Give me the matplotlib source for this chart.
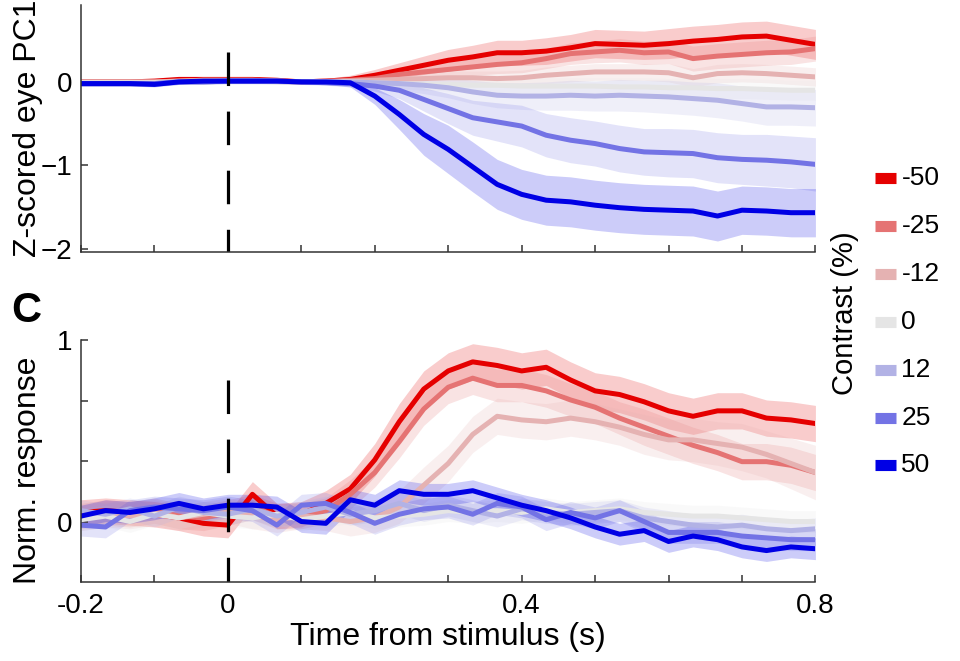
import numpy as np
import matplotlib.pyplot as plt
from matplotlib.lines import Line2D

plt.rcParams['font.family'] = ['Liberation Sans', 'DejaVu Sans']

# time grid (s), 31 samples from -0.2 to 0.8
t = np.linspace(-0.2, 0.8, 31)

contrasts = ['-50', '-25', '-12', '0', '12', '25', '50']
colors = ['#e50000', '#e57373', '#e5b2b2', '#e5e5e5', '#b2b2e5', '#7373e5', '#0000e5']

# --- top panel: z-scored eye PC1 ---
eye_m50 = [0, 0, 0, 0.01, 0.03, 0.03, 0.03, 0.03, 0.02, 0.0, 0.01, 0.03, 0.08, 0.14, 0.2, 0.26,
           0.3, 0.35, 0.35, 0.37, 0.41, 0.46, 0.45, 0.44, 0.46, 0.49, 0.51, 0.54, 0.55, 0.5, 0.45]
eye_m25 = [0, 0, 0, 0, 0.01, 0.02, 0.02, 0.02, 0.01, 0.0, 0.01, 0.02, 0.04, 0.09, 0.12, 0.15,
           0.18, 0.21, 0.23, 0.28, 0.34, 0.36, 0.38, 0.35, 0.36, 0.28, 0.31, 0.33, 0.35, 0.36, 0.4]
eye_m12 = [0, 0, 0, 0, 0.01, 0.02, 0.02, 0.02, 0.01, 0.0, 0.0, 0.01, 0.02, 0.03, 0.04, 0.05,
           0.05, 0.04, 0.05, 0.08, 0.1, 0.12, 0.12, 0.12, 0.11, 0.05, 0.1, 0.11, 0.1, 0.08, 0.06]
eye_0 = [-0.01, -0.01, -0.01, -0.01, 0.0, 0.0, 0.01, 0.01, 0.0, 0.0, 0.0, 0.0, -0.01, -0.02, -0.03,
         -0.03, -0.04, -0.04, -0.05, -0.05, -0.05, -0.05, -0.06, -0.06, -0.07, -0.07, -0.08, -0.08,
         -0.09, -0.1, -0.1]
eye_p12 = [-0.02, -0.02, -0.02, -0.02, 0.0, 0.0, 0.01, 0.01, 0.01, 0.0, 0.0, 0.0, -0.01, -0.02,
           -0.04, -0.07, -0.12, -0.16, -0.17, -0.17, -0.16, -0.17, -0.16, -0.17, -0.18, -0.2,
           -0.22, -0.26, -0.3, -0.3, -0.31]
eye_p25 = [-0.02, -0.02, -0.02, -0.02, 0.0, 0.0, 0.01, 0.01, 0.01, 0.0, -0.01, -0.02, -0.05, -0.1,
           -0.21, -0.32, -0.43, -0.48, -0.53, -0.64, -0.7, -0.74, -0.8, -0.84, -0.85, -0.86,
           -0.91, -0.93, -0.94, -0.96, -0.99]
eye_p50 = [-0.02, -0.02, -0.02, -0.03, 0.0, 0.01, 0.01, 0.01, 0.01, 0.0, 0.0, -0.01, -0.17, -0.39,
           -0.63, -0.81, -1.02, -1.23, -1.35, -1.42, -1.44, -1.48, -1.51, -1.53, -1.54, -1.55,
           -1.61, -1.54, -1.55, -1.57, -1.57]

eye_err_m50 = [0.03] * 11 + [0.05, 0.07, 0.09, 0.11, 0.13, 0.14, 0.15, 0.15, 0.16, 0.16, 0.17,
                             0.17, 0.17, 0.18, 0.18, 0.18, 0.18, 0.18, 0.18, 0.18]
eye_err_m25 = [0.03] * 11 + [0.04, 0.05, 0.07, 0.08, 0.09, 0.1, 0.11, 0.12, 0.12, 0.13, 0.13,
                             0.14, 0.14, 0.14, 0.15, 0.15, 0.15, 0.15, 0.15, 0.15]
eye_err_m12 = [0.03] * 11 + [0.04, 0.05, 0.06, 0.07, 0.08, 0.08, 0.09, 0.09, 0.1, 0.1, 0.1,
                             0.1, 0.1, 0.11, 0.11, 0.11, 0.11, 0.11, 0.11, 0.11]
eye_err_0 = [0.03] * 11 + [0.04, 0.05, 0.06, 0.07, 0.08, 0.08, 0.09, 0.09, 0.1, 0.1, 0.1,
                           0.11, 0.11, 0.11, 0.12, 0.12, 0.12, 0.12, 0.12, 0.12]
eye_err_p12 = [0.03] * 11 + [0.04, 0.06, 0.08, 0.1, 0.12, 0.14, 0.15, 0.16, 0.17, 0.18, 0.18,
                             0.19, 0.19, 0.2, 0.2, 0.21, 0.21, 0.22, 0.22, 0.22]
eye_err_p25 = [0.03] * 11 + [0.04, 0.06, 0.1, 0.14, 0.18, 0.21, 0.23, 0.25, 0.26, 0.27, 0.27,
                             0.28, 0.28, 0.29, 0.29, 0.3, 0.3, 0.31, 0.31, 0.32]
eye_err_p50 = [0.03] * 11 + [0.05, 0.1, 0.18, 0.25, 0.29, 0.3, 0.3, 0.3, 0.3, 0.3, 0.3,
                             0.3, 0.3, 0.3, 0.3, 0.3, 0.29, 0.29, 0.29, 0.29]

# --- bottom panel: normalized neural response ---
resp_m50 = [0.05, 0.06, 0.05, 0.04, 0.02, -0.01, -0.02, 0.15, 0.03, 0.04, 0.1, 0.18, 0.34, 0.55,
            0.73, 0.83, 0.88, 0.86, 0.83, 0.85, 0.78, 0.72, 0.7, 0.66, 0.61, 0.58, 0.61, 0.61,
            0.57, 0.56, 0.54]
resp_m25 = [0.03, 0.05, 0.04, 0.06, 0.03, 0.02, 0.05, 0.08, 0.03, 0.03, 0.06, 0.15, 0.27, 0.44,
            0.62, 0.74, 0.79, 0.75, 0.75, 0.72, 0.67, 0.63, 0.57, 0.52, 0.47, 0.42, 0.38, 0.33,
            0.33, 0.31, 0.27]
resp_m12 = [0.02, 0.04, 0.03, 0.05, 0.02, 0.04, 0.06, 0.03, 0.01, 0.03, 0.02, 0.0, 0.02, 0.08,
            0.2, 0.32, 0.48, 0.58, 0.56, 0.55, 0.57, 0.55, 0.52, 0.48, 0.45, 0.45, 0.43, 0.41,
            0.37, 0.32, 0.27]
resp_0 = [0.01, 0.03, 0.0, 0.04, 0.02, 0.05, 0.03, 0.02, 0.04, 0.01, 0.03, 0.05, 0.02, 0.03, 0.04,
          0.06, 0.05, 0.06, 0.05, 0.07, 0.05, 0.06, 0.07, 0.05, 0.04, 0.03, 0.03, 0.02, 0.01, 0.0, 0.0]
resp_p12 = [0.06, 0.04, 0.07, 0.03, 0.08, 0.05, 0.04, 0.07, 0.03, 0.05, 0.08, 0.04, 0.06, 0.1,
            0.06, 0.09, 0.06, 0.03, 0.07, 0.05, 0.04, 0.05, 0.06, 0.02, 0.0, -0.02, -0.03, -0.02,
            -0.04, -0.05, -0.04]
resp_p25 = [-0.02, -0.03, 0.06, 0.08, 0.07, 0.06, 0.08, 0.06, -0.02, 0.09, 0.1, 0.05, -0.01, 0.04,
            0.07, 0.08, 0.04, 0.1, 0.08, 0.01, 0.05, 0.02, 0.06, 0.0, -0.06, -0.06, -0.06, -0.08,
            -0.09, -0.1, -0.1]
resp_p50 = [0.03, 0.06, 0.05, 0.07, 0.1, 0.07, 0.09, 0.09, 0.08, 0.0, -0.01, 0.12, 0.09, 0.17,
            0.15, 0.15, 0.17, 0.13, 0.09, 0.06, 0.02, -0.03, -0.07, -0.05, -0.11, -0.08, -0.1,
            -0.14, -0.16, -0.14, -0.15]

resp_err_m50 = [0.07] * 11 + [0.08, 0.09, 0.1, 0.1, 0.1, 0.1, 0.1, 0.1, 0.1, 0.1, 0.1, 0.1, 0.1,
                              0.1, 0.1, 0.1, 0.1, 0.1, 0.1, 0.1]
resp_err_m25 = [0.07] * 11 + [0.08, 0.08, 0.09, 0.09, 0.09, 0.09, 0.09, 0.09, 0.09, 0.09, 0.09,
                              0.09, 0.1, 0.1, 0.1, 0.1, 0.1, 0.1, 0.1, 0.1]
resp_err_m12 = [0.07] * 11 + [0.08, 0.08, 0.09, 0.1, 0.1, 0.1, 0.1, 0.1, 0.1, 0.1, 0.1, 0.1,
                              0.11, 0.11, 0.12, 0.12, 0.13, 0.13, 0.14, 0.15]
resp_err_0 = [0.06] * 31
resp_err_p12 = [0.06] * 31
resp_err_p25 = [0.06] * 31
resp_err_p50 = [0.06] * 31

eye = [eye_m50, eye_m25, eye_m12, eye_0, eye_p12, eye_p25, eye_p50]
eye_err = [eye_err_m50, eye_err_m25, eye_err_m12, eye_err_0, eye_err_p12, eye_err_p25, eye_err_p50]
resp = [resp_m50, resp_m25, resp_m12, resp_0, resp_p12, resp_p25, resp_p50]
resp_err = [resp_err_m50, resp_err_m25, resp_err_m12, resp_err_0, resp_err_p12, resp_err_p25,
            resp_err_p50]

fig = plt.figure(figsize=(9.6, 6.61), dpi=100)
ax1 = fig.add_axes([0.0844, 0.619, 0.765, 0.373])
ax2 = fig.add_axes([0.0844, 0.1195, 0.765, 0.366])

ink = '#333333'


def draw(ax, means, errs):
    for m, e, c in zip(means, errs, colors):
        m = np.array(m)
        e = np.array(e)
        ax.fill_between(t, m - e, m + e, color=c, alpha=0.2, lw=0)
        ax.plot(t, m, color=c, lw=3.6, solid_joinstyle='round')
    for s in ['top', 'right']:
        ax.spines[s].set_visible(False)
    for s in ['left', 'bottom']:
        ax.spines[s].set_color(ink)
        ax.spines[s].set_linewidth(1.1)
    ax.tick_params(direction='in', length=5, width=1.1, color=ink, labelsize=20)
    ax.tick_params(axis='x', pad=8)
    ax.tick_params(axis='y', pad=6)
    ax.set_xlim(-0.2, 0.8)
    ax.set_xticks(np.arange(-0.2, 0.81, 0.1))


draw(ax1, eye, eye_err)
ax1.set_ylim(-2.04, 0.92)
ax1.set_yticks([-2, -1, 0])
ax1.set_xticklabels([])
ax1.plot([0, 0], [0.36, -2.04], color='black', lw=2.3, dashes=(10.5, 8))
ax1.set_ylabel('Z-scored eye PC1', fontsize=23)
ax1.yaxis.set_label_coords(-0.052, 0.5)

draw(ax2, resp, resp_err)
ax2.set_ylim(-1 / 3, 1)
ax2.set_yticks([0, 1 / 3, 2 / 3, 1])
ax2.set_yticklabels(['0', '', '', '1'])
ax2.set_xticklabels(['-0.2', '', '0', '', '', '', '0.4', '', '', '', '0.8'])
ax2.plot([0, 0], [0.78, -1 / 3], color='black', lw=2.3, dashes=(10.5, 8))
ax2.set_ylabel('Norm. response', fontsize=23)
ax2.yaxis.set_label_coords(-0.052, 0.46)
ax2.set_xlabel('Time from stimulus (s)', fontsize=23)
ax2.xaxis.set_label_coords(0.5, -0.165)

fig.text(0.012, 0.53, 'C', fontsize=30, fontweight='bold', ha='left', va='center')

# legend
fig.text(0.880, 0.526, 'Contrast (%)', rotation=90, fontsize=21, ha='center', va='center')
rows = [178, 226, 274, 322, 370, 418, 465]
for lab, c, yp in zip(contrasts, colors, rows):
    yf = 1 - yp / 661
    fig.add_artist(Line2D([0.911, 0.933], [yf, yf], transform=fig.transFigure, color=c, lw=8,
                          solid_capstyle='butt'))
    fig.text(0.939, yf, lab, fontsize=19, ha='left', va='center')

fig.savefig('out.png', dpi=100)
